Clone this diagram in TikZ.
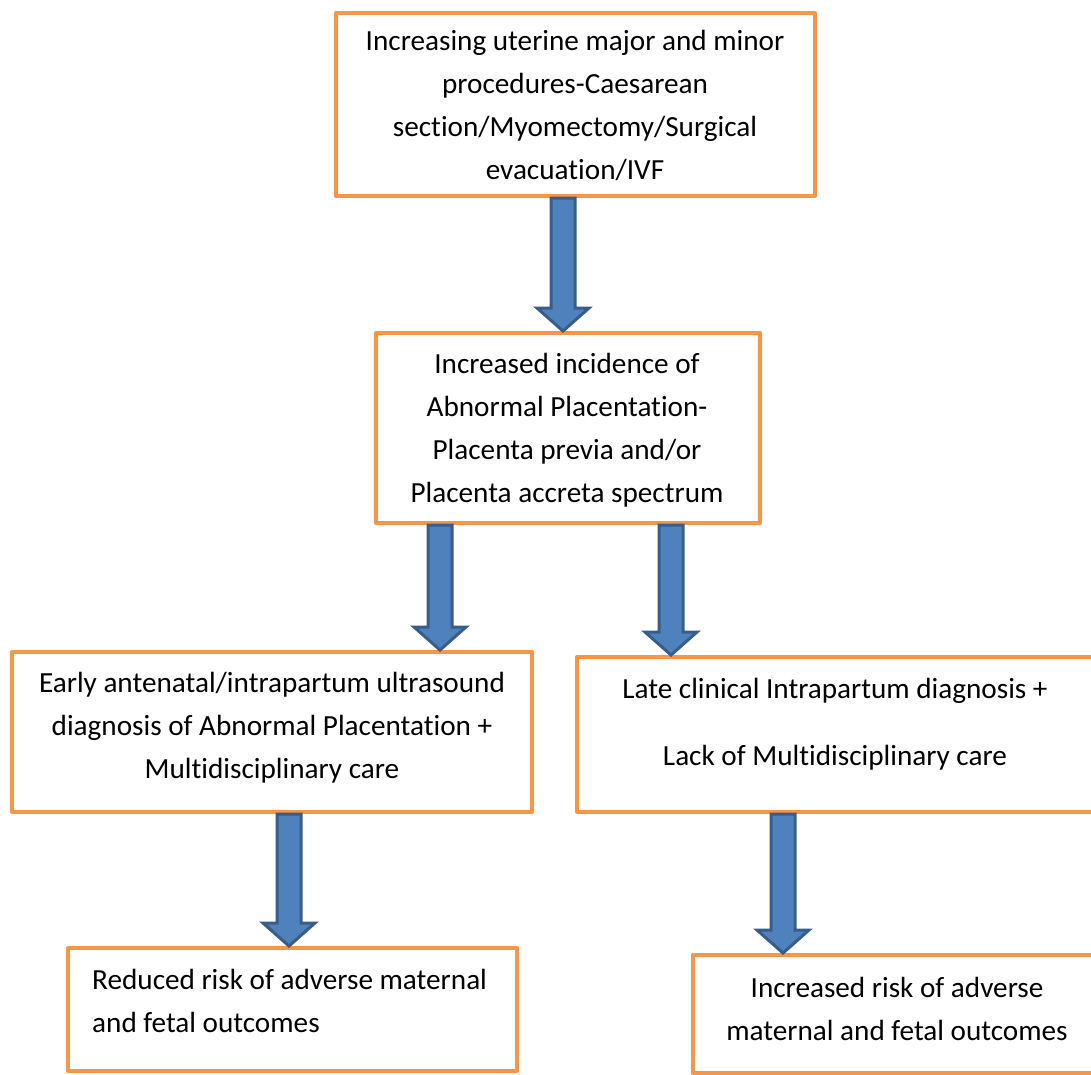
\documentclass[tikz,border=0pt]{standalone}
\usepackage{fontspec}
\setmainfont[Ligatures=NoCommon]{Carlito}
\usetikzlibrary{calc}
\definecolor{boxline}{HTML}{F79646}
\definecolor{arrowfill}{HTML}{4F81BD}
\definecolor{arrowline}{HTML}{385D8A}
\begin{document}
\begin{tikzpicture}[x=1pt,y=-1pt,
  box/.style={draw=boxline, line width=4pt, line join=round, fill=white, inner sep=0pt},
  txt/.style={align=center, inner sep=0pt, font=\fontsize{29.2}{43}\selectfont},
  fatarrow/.style={draw=arrowline, fill=arrowfill, line width=3pt, line join=miter,
    to path={let \p1=(\tikztostart), \p2=(\tikztotarget) in
      (\x1-12pt,\y1) -- (\x1-12pt,\y2+23pt) -- (\x1-26pt,\y2+23pt) -- (\x1,\y2)
      -- (\x1+26pt,\y2+23pt) -- (\x1+12pt,\y2+23pt) -- (\x1+12pt,\y1) -- cycle}}]
\useasboundingbox (0,0) rectangle (1091,1074);

% boxes
\node[box, minimum width=479pt, minimum height=183pt] (b1) at (575.5,104.5) {};
\node[box, minimum width=384pt, minimum height=190pt] (b2) at (568,428) {};
\node[box, minimum width=520pt, minimum height=160pt] (b3l) at (272,732) {};
\node[box, minimum width=517pt, minimum height=155pt] (b3r) at (835.5,734.5) {};
\node[box, minimum width=449pt, minimum height=123pt] (b4l) at (292.5,1009.5) {};
\node[box, minimum width=410pt, minimum height=118pt] (b4r) at (898,1014) {};

% texts
\node[txt] (t1) at (575,105) {Increasing uterine major and minor\\procedures-Caesarean\\section/Myomectomy/Surgical\\evacuation/IVF};
\node[txt] (t2) at (567,430) {Increased incidence of\\Abnormal Placentation-\\Placenta previa and/or\\Placenta accreta spectrum};
\node[txt] (t3l) at (272,728) {Early antenatal/intrapartum ultrasound\\diagnosis of Abnormal Placentation +\\Multidisciplinary care};
\node[txt] (t3r) at (835,724) {Late clinical Intrapartum diagnosis +\\[24pt]Lack of Multidisciplinary care};
\node[txt, align=left, anchor=west] (t4l) at (92,1001) {Reduced risk of adverse maternal\\and fetal outcomes};
\node[txt] (t4r) at (897,1009) {Increased risk of adverse\\maternal and fetal outcomes};

% block arrows
\draw[fatarrow] (b1.south -| 563,0) to (b2.north -| 563,0);
\draw[fatarrow] (b2.south -| 440,0) to (b3l.north -| 440,0);
\draw[fatarrow] (b2.south -| 671,0) to (b3r.north -| 671,0);
\draw[fatarrow] (b3l.south -| 289,0) to (b4l.north -| 289,0);
\draw[fatarrow] (b3r.south -| 783,0) to (b4r.north -| 783,0);
\end{tikzpicture}
\end{document}
